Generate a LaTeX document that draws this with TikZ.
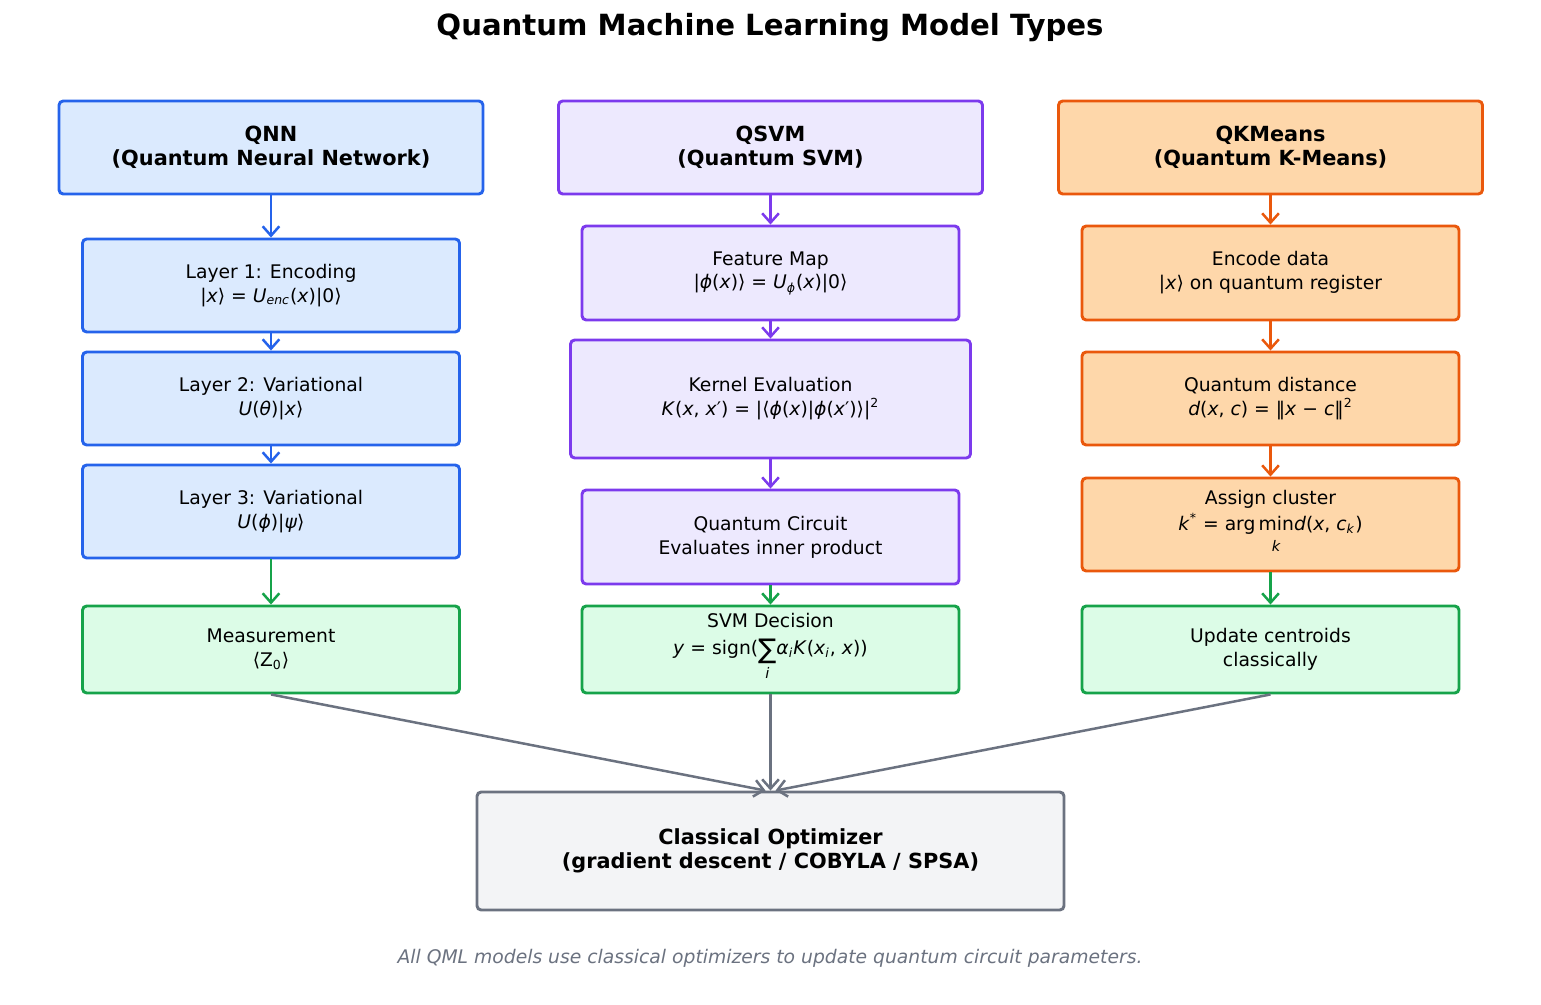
\documentclass[tikz,border=0pt]{standalone}
\usepackage{fontspec}
\setmainfont{DejaVu Sans}
\usetikzlibrary{arrows.meta}

\definecolor{qnnline}{HTML}{2563EB}
\definecolor{qnnfill}{HTML}{DBEAFE}
\definecolor{qsvmline}{HTML}{7C3AED}
\definecolor{qsvmfill}{HTML}{EDE9FE}
\definecolor{qkmline}{HTML}{EA580C}
\definecolor{qkmfill}{HTML}{FED7AA}
\definecolor{measline}{HTML}{16A34A}
\definecolor{measfill}{HTML}{DCFCE7}
\definecolor{optline}{HTML}{6B7280}
\definecolor{optfill}{HTML}{F3F4F6}

\newcommand{\qv}[1]{\textit{#1}}
\newcommand{\withbelow}[2]{\begin{tabular}[t]{@{}c@{}}#1\\[-1pt]{\scriptsize\qv{#2}}\end{tabular}}
\newcommand{\bigsum}{\raisebox{-2pt}{\fontsize{13}{13}\selectfont ∑}}

\tikzstyle{box} = [
    rectangle,
    rounded corners=2pt,
    minimum width=180.96pt,
    minimum height=44.64pt,
    line width=1.4pt,
    inner sep=0pt,
    align=center,
    font=\fontsize{9}{11.5}\selectfont
]
\tikzstyle{head} = [
    box,
    minimum width=203.52pt,
    font=\fontsize{10}{11.5}\selectfont\bfseries
]
\tikzstyle{qnn} = [box, draw=qnnline, fill=qnnfill]
\tikzstyle{qsvm} = [box, draw=qsvmline, fill=qsvmfill]
\tikzstyle{qkm} = [box, draw=qkmline, fill=qkmfill]
\tikzstyle{meas} = [box, draw=measline, fill=measfill, minimum height=41.76pt]
\tikzstyle{optim} = [
    box,
    draw=optline,
    fill=optfill,
    minimum width=281.76pt,
    minimum height=56.64pt,
    font=\fontsize{10}{11.5}\selectfont\bfseries
]
\tikzstyle{arrow} = [line width=1.2pt, -{Straight Barb[length=4.5pt, width=8pt]}]

\begin{document}
\begin{tikzpicture}[x=0.48pt, y=-0.48pt, node distance=54.24pt]

\useasboundingbox (0,0) rectangle (1541,1005);

\node (title) at (770,28) [font=\fontsize{14}{16}\selectfont\bfseries]
{Quantum Machine Learning Model Types};

% QNN column
\node (qnnhead) at (271,147.5) [qnn, head]
{QNN\\(Quantum Neural Network)};

\node (layer1) [qnn, below of=qnnhead, node distance=66.24pt]
{Layer 1: Encoding\\|\qv{x}⟩ = \qv{U}\textsubscript{\qv{enc}}(\qv{x})|0⟩};

\node (layer2) [qnn, below of=layer1]
{Layer 2: Variational\\\qv{U}(\qv{θ})|\qv{x}⟩};

\node (layer3) [qnn, below of=layer2]
{Layer 3: Variational\\\qv{U}(\qv{ϕ})|\qv{ψ}⟩};

\node (measure) [meas, below of=layer3, node distance=66.24pt]
{Measurement\\⟨Z\textsubscript{0}⟩};

% QSVM column
\node (qsvmhead) at (770.5,147.5) [qsvm, head]
{QSVM\\(Quantum SVM)};

\node (featmap) [qsvm, below of=qsvmhead, node distance=60.24pt, minimum height=45.12pt]
{Feature Map\\|\qv{ϕ}(\qv{x})⟩ = \qv{U}\textsubscript{\qv{ϕ}}(\qv{x})|0⟩};

\node (kernel) [qsvm, below of=featmap, node distance=60.48pt, minimum width=192pt, minimum height=56.64pt]
{Kernel Evaluation\\\qv{K}(\qv{x}, \qv{x}′) = |⟨\qv{ϕ}(\qv{x})|\qv{ϕ}(\qv{x}′)⟩|\textsuperscript{2}};

\node (circuit) [qsvm, below of=kernel, node distance=66.24pt, minimum height=45.12pt]
{Quantum Circuit\\Evaluates inner product};

\node (decision) [meas, below of=circuit, node distance=54pt]
{SVM Decision\\[1pt]\qv{y} = sign(\withbelow{\bigsum}{i}\qv{α}\textsubscript{\qv{i}}\qv{K}(\qv{x}\textsubscript{\qv{i}}, \qv{x}))};

% QKMeans column
\node (qkmhead) at (1270.5,147.5) [qkm, head]
{QKMeans\\(Quantum K-Means)};

\node (encode) [qkm, below of=qkmhead, node distance=60.24pt, minimum height=45.12pt]
{Encode data\\|\qv{x}⟩ on quantum register};

\node (distance) [qkm, below of=encode, node distance=60.24pt]
{Quantum distance\\\qv{d}(\qv{x}, \qv{c}) = ‖\qv{x} − \qv{c}‖\textsuperscript{2}};

\node (assign) [qkm, below of=distance, node distance=60.48pt]
{Assign cluster\\[1pt]\qv{k}\textsuperscript{*} = arg\,\withbelow{min}{k}\qv{d}(\qv{x}, \qv{c}\textsubscript{\qv{k}})};

\node (update) [meas, below of=assign, node distance=60pt]
{Update centroids\\classically};

% optimizer
\node (optimizer) [optim, below of=decision, node distance=96.72pt]
{Classical Optimizer\\(gradient descent / COBYLA / SPSA)};

\node (note) at (770,958) [font=\fontsize{9}{11}\selectfont\itshape, text=optline]
{All QML models use classical optimizers to update quantum circuit parameters.};

\draw [arrow, qnnline] (qnnhead) -- (layer1);
\draw [arrow, qnnline] (layer1) -- (layer2);
\draw [arrow, qnnline] (layer2) -- (layer3);
\draw [arrow, measline] (layer3) -- (measure);

\draw [arrow, qsvmline] (qsvmhead) -- (featmap);
\draw [arrow, qsvmline] (featmap) -- (kernel);
\draw [arrow, qsvmline] (kernel) -- (circuit);
\draw [arrow, measline] (circuit) -- (decision);

\draw [arrow, qkmline] (qkmhead) -- (encode);
\draw [arrow, qkmline] (encode) -- (distance);
\draw [arrow, qkmline] (distance) -- (assign);
\draw [arrow, measline] (assign) -- (update);

\draw [arrow, optline] (measure.south) -- ([xshift=-2.4pt]optimizer.north);
\draw [arrow, optline] (decision) -- (optimizer);
\draw [arrow, optline] (update.south) -- ([xshift=2.4pt]optimizer.north);

\end{tikzpicture}
\end{document}
